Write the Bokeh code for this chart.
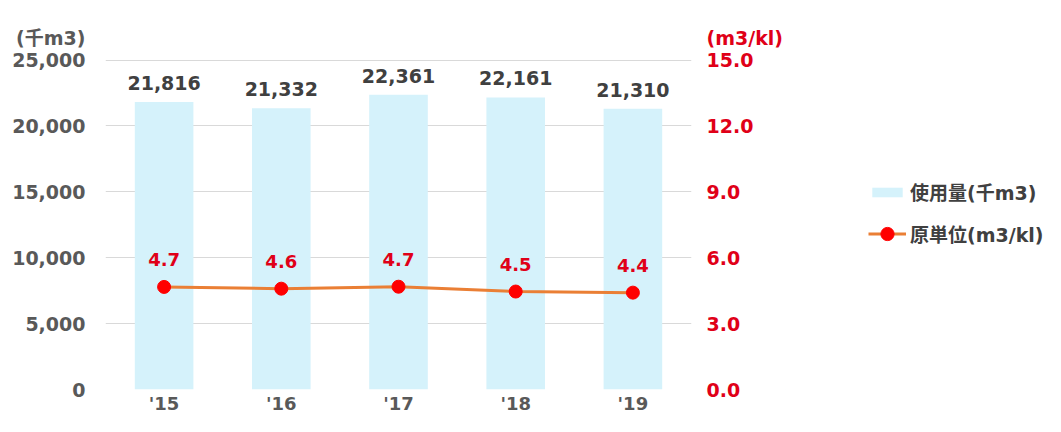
from bokeh.plotting import figure
from bokeh.layouts import row
from bokeh.models import (Range1d, LinearAxis, FixedTicker, NumeralTickFormatter,
                          Legend, LegendItem, ColumnDataSource)
from bokeh.core.properties import value
from bokeh.embed import file_html
from bokeh.resources import INLINE

years = ["'15", "'16", "'17", "'18", "'19"]
usage = [21816, 21332, 22361, 22161, 21310]          # 使用量(千m3)
intensity = [4.67, 4.59, 4.68, 4.46, 4.41]           # 原単位(m3/kl)
left_ticks = [0, 5000, 10000, 15000, 20000, 25000]
right_ticks = [0, 3, 6, 9, 12, 15]
left_unit = "(千m3)"
right_unit = "(m3/kl)"
series_names = ["使用量(千m3)", "原単位(m3/kl)"]

FONT = "'DejaVu Sans', 'Noto Sans CJK JP'"
GREY = "#595959"
DARK = "#404040"
RED = "#e00018"
BAR = "#d5f2fb"
ORANGE = "#ea7f35"

# axis extents: left 0..25000 plus headroom for the unit captions
LEFT_TOP = 28000
RIGHT_TOP = 15 * LEFT_TOP / 25000
UNIT_L = 26667          # caption position on the left axis
UNIT_R = 16             # same height on the right axis

xs = list(range(len(years)))
src = ColumnDataSource(dict(
    x=xs, usage=usage, intensity=intensity,
    ulab=[f"{v:,}" for v in usage],
    ilab=[f"{v:.1f}" for v in intensity],
))

p = figure(width=785, height=416, output_backend="svg", toolbar_location=None,
           x_range=Range1d(-0.5, len(years) - 0.5), y_range=Range1d(0, LEFT_TOP),
           min_border_left=105, min_border_right=90, min_border_top=20, min_border_bottom=25)
p.title = None
p.extra_y_ranges = {"r": Range1d(0, RIGHT_TOP)}
p.outline_line_color = None
p.background_fill_color = "white"
p.border_fill_color = "white"

bars = p.vbar(x="x", top="usage", width=0.5, source=src, fill_color=BAR, line_color=None)
ln = p.line(x="x", y="intensity", source=src, y_range_name="r", line_color=ORANGE, line_width=3)
pts = p.scatter(x="x", y="intensity", source=src, y_range_name="r", size=13,
                fill_color="#ff0000", line_color="#ff0000")

p.text(x="x", y="usage", text="ulab", source=src, text_align="center", text_baseline="bottom",
       y_offset=-12, text_font=value(FONT), text_font_style="bold", text_font_size="19px",
       text_color=DARK)
p.text(x="x", y="intensity", text="ilab", source=src, y_range_name="r", text_align="center",
       text_baseline="middle", y_offset=-27, text_font=value(FONT), text_font_style="bold",
       text_font_size="18px", text_color=RED)

def style_axis(ax, color, standoff, size="19px"):
    ax.axis_line_color = None
    ax.major_tick_line_color = None
    ax.minor_tick_line_color = None
    ax.major_tick_out = 0
    ax.major_tick_in = 0
    ax.minor_tick_out = 0
    ax.minor_tick_in = 0
    ax.major_label_standoff = standoff
    ax.major_label_text_font = FONT
    ax.major_label_text_font_style = "bold"
    ax.major_label_text_font_size = size
    ax.major_label_text_color = color

p.xaxis.ticker = FixedTicker(ticks=xs)
p.xaxis.major_label_overrides = {i: y for i, y in enumerate(years)}
style_axis(p.xaxis[0], GREY, 3, "18px")

p.yaxis.ticker = FixedTicker(ticks=left_ticks + [UNIT_L])
p.yaxis.formatter = NumeralTickFormatter(format="0,0")
p.yaxis.major_label_overrides = {UNIT_L: left_unit}
style_axis(p.yaxis[0], GREY, 20)

ra = LinearAxis(y_range_name="r", ticker=FixedTicker(ticks=right_ticks + [UNIT_R]),
                formatter=NumeralTickFormatter(format="0.0"))
ra.major_label_overrides = {UNIT_R: right_unit}
style_axis(ra, RED, 15)
p.add_layout(ra, "right")

p.xgrid.grid_line_color = None
p.ygrid.ticker = FixedTicker(ticks=left_ticks)
p.ygrid.grid_line_color = "#d9d9d9"
p.ygrid.grid_line_width = 1

# legend panel (key glyphs use a single off-screen point so only the legend shows them)
q = figure(width=260, height=416, output_backend="svg", toolbar_location=None,
           x_range=Range1d(0, 1), y_range=Range1d(0, 1),
           min_border_left=0, min_border_right=0, min_border_top=0, min_border_bottom=0)
q.title = None
q.axis.visible = False
q.grid.visible = False
q.outline_line_color = None
q.border_fill_color = "white"
kb = q.vbar(x=[-5], top=[-5], width=0.5, fill_color=BAR, line_color=None)
kl = q.line(x=[-5, -4], y=[-5, -5], line_color=ORANGE, line_width=3)
ks = q.scatter(x=[-5], y=[-5], size=13, fill_color="#ff0000", line_color="#ff0000")

common = dict(orientation="vertical", glyph_width=38, label_height=20,
              padding=0, margin=0, label_standoff=4,
              border_line_color=None, background_fill_alpha=0,
              label_text_font=FONT, label_text_font_style="bold",
              label_text_font_size="19px", label_text_color=DARK)
leg1 = Legend(items=[LegendItem(label=series_names[0], renderers=[kb])],
              location=(83, 184), glyph_height=12, **common)
leg2 = Legend(items=[LegendItem(label=series_names[1], renderers=[kl, ks])],
              location=(83, 139), glyph_height=33, **common)
q.add_layout(leg1, "center")
q.add_layout(leg2, "center")

layout = row(p, q)
open("out.html", "w").write(file_html(layout, INLINE))
